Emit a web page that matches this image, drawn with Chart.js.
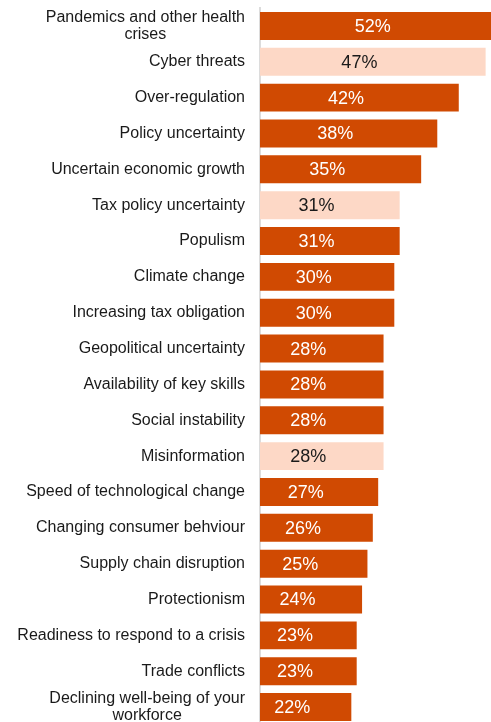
<!DOCTYPE html>
<html>
<head>
<meta charset="utf-8">
<title>Top threats</title>
<script src="https://cdn.jsdelivr.net/npm/chart.js@4/dist/chart.umd.min.js"></script>
<style>
  html, body { margin: 0; padding: 0; background: #fff; overflow: hidden; }
  canvas { display: block; }
</style>
</head>
<body>
<canvas id="myChart" width="491" height="725"></canvas>
<script>
const categories = [
  ["Pandemics and other health", "crises"],
  "Cyber threats",
  "Over-regulation",
  "Policy uncertainty",
  "Uncertain economic growth",
  "Tax policy uncertainty",
  "Populism",
  "Climate change",
  "Increasing tax obligation",
  "Geopolitical uncertainty",
  "Availability of key skills",
  "Social instability",
  "Misinformation",
  "Speed of technological change",
  "Changing consumer behviour",
  "Supply chain disruption",
  "Protectionism",
  "Readiness to respond to a crisis",
  "Trade conflicts",
  ["Declining well-being of your", "workforce"],
];
const values = [52, 47, 42, 38, 35, 31, 31, 30, 30, 28, 28, 28, 28, 27, 26, 25, 24, 23, 23, 22];
// rows shown in the pale shade
const highlighted = ["Cyber threats", "Tax policy uncertainty", "Misinformation"];

const DARK = "#D04A02";
const LIGHT = "#FDD8C6";
const FONT = "'Liberation Sans', Arial, sans-serif";

const isLight = (c) => highlighted.includes(c);

// category names on the left, multi-line ones centred on each other
const categoryLabels = {
  id: "categoryLabels",
  afterDraw(chart) {
    const ctx = chart.ctx;
    const yScale = chart.scales.y;
    const right = 245;
    const lineH = 17;
    ctx.save();
    ctx.font = "16px " + FONT;
    ctx.fillStyle = "#1a1a1a";
    ctx.textBaseline = "middle";
    ctx.textAlign = "center";
    categories.forEach((c, i) => {
      const lines = Array.isArray(c) ? c : [c];
      const w = Math.max(...lines.map(l => ctx.measureText(l).width));
      const cx = right - w / 2;
      const cy = yScale.getPixelForTick(i);
      const y0 = cy - (lines.length - 1) * lineH / 2;
      lines.forEach((l, k) => ctx.fillText(l, cx, y0 + k * lineH));
    });
    ctx.restore();
  }
};

// percentage inside each bar, centred on the full bar length
const valueLabels = {
  id: "valueLabels",
  afterDatasetsDraw(chart) {
    const ctx = chart.ctx;
    const meta = chart.getDatasetMeta(0);
    ctx.save();
    ctx.font = "18px " + FONT;
    ctx.textAlign = "center";
    ctx.textBaseline = "middle";
    meta.data.forEach((bar, i) => {
      ctx.fillStyle = isLight(categories[i]) ? "#1a1a1a" : "#ffffff";
      ctx.fillText(values[i] + "%", (bar.x + bar.base) / 2, bar.y + 1);
    });
    ctx.restore();
  }
};

const data = {
  labels: categories,
  datasets: [{
    data: values,
    backgroundColor: categories.map(c => isLight(c) ? LIGHT : DARK),
    borderWidth: 0,
    barPercentage: 0.78,
    categoryPercentage: 1,
  }],
};

const config = {
  type: "bar",
  data: data,
  options: {
    indexAxis: "y",
    responsive: false,
    animation: false,
    layout: { padding: { top: 8, bottom: 0, left: 0, right: 0 } },
    plugins: {
      legend: { display: false },
      tooltip: { enabled: false },
    },
    scales: {
      x: {
        display: false,
        min: 5,
        max: 48,
      },
      y: {
        afterFit(scale) { scale.width = 260; },
        grid: { display: false, drawTicks: false },
        border: { display: true, color: "#DCDCDC", width: 2 },
        ticks: { display: false },
      },
    },
  },
  plugins: [categoryLabels, valueLabels],
};

var myChart = new Chart(document.getElementById("myChart"), config);
</script>
</body>
</html>
